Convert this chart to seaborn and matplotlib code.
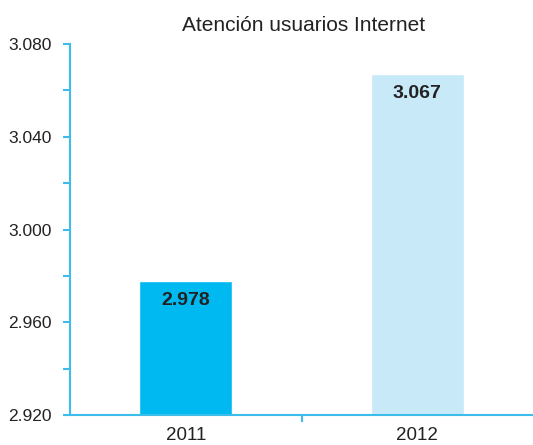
import matplotlib
matplotlib.use("Agg")
import matplotlib.pyplot as plt
import seaborn as sns
import pandas as pd
from matplotlib.ticker import MultipleLocator, FuncFormatter

sns.set_theme(style="white")
plt.rcParams['font.family'] = ['Liberation Sans', 'DejaVu Sans']

years = ["2011", "2012"]
values = [2.978, 3.067]
bar_colors = ["#00B9F1", "#C8E9F8"]
title = "Atención usuarios Internet"

df = pd.DataFrame({"year": years, "value": values})

fig = plt.figure(figsize=(5.33, 4.45), dpi=100)
ax = fig.add_axes([70 / 533, 30 / 445, 463 / 533, 371 / 445])

sns.barplot(data=df, x="year", y="value", hue="year", palette=bar_colors,
            width=0.4, legend=False, ax=ax, saturation=1)

ax.set_ylim(2.920, 3.080)
ax.set_xlim(-0.5, 1.5)
ax.yaxis.set_major_locator(MultipleLocator(0.04))
ax.yaxis.set_minor_locator(MultipleLocator(0.02))
ax.yaxis.set_major_formatter(FuncFormatter(lambda v, p: f"{v:.3f}"))

spine_col = "#3DBDEB"
for s in ["top", "right"]:
    ax.spines[s].set_visible(False)
for s in ["left", "bottom"]:
    ax.spines[s].set_color(spine_col)
    ax.spines[s].set_linewidth(1.5)

ax.tick_params(axis="y", which="both", direction="out", left=True, length=5,
               width=1.5, color=spine_col, labelsize=12.5, labelcolor="#222222", pad=8)
ax.tick_params(axis="x", which="both", bottom=False, labelsize=13.5, labelcolor="#222222", pad=3)
ax.set_xticks([0.5], minor=True)
ax.tick_params(axis="x", which="minor", bottom=True, length=5, width=1.5, color=spine_col)

for i, v in enumerate(values):
    ax.annotate(f"{v:.3f}", (i, v), xytext=(0, -8), textcoords="offset points",
                ha="center", va="top", fontsize=14, fontweight="bold", color="#222222")

ax.set_xlabel("")
ax.set_ylabel("")
fig.text(0.57, 0.965, title, ha="center", va="top", fontsize=15, color="#222222")

fig.savefig("out.png", dpi=100)
